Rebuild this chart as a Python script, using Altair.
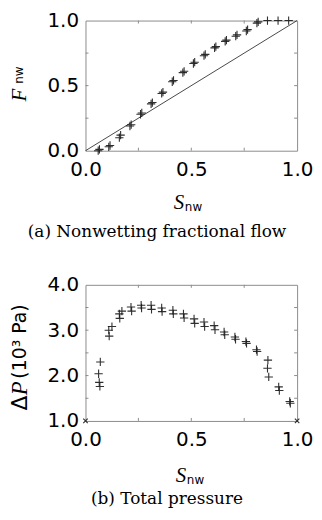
import altair as alt
import pandas as pd

# ---- (a) Nonwetting fractional flow ----
s_run1 = [0.06, 0.11, 0.16, 0.21, 0.26, 0.31, 0.36, 0.41, 0.46, 0.51, 0.56, 0.61, 0.66, 0.71, 0.76, 0.81, 0.86, 0.91, 0.96]
f_run1 = [0.00, 0.03, 0.10, 0.19, 0.28, 0.36, 0.44, 0.53, 0.60, 0.67, 0.73, 0.79, 0.84, 0.88, 0.92, 0.98, 1.00, 1.00, 1.00]
s_run2 = [0.066, 0.116, 0.166, 0.216, 0.266, 0.316, 0.366, 0.416, 0.466, 0.516, 0.566, 0.616, 0.666, 0.716, 0.766, 0.816]
f_run2 = [0.01, 0.04, 0.12, 0.20, 0.29, 0.37, 0.45, 0.54, 0.61, 0.68, 0.74, 0.80, 0.85, 0.89, 0.93, 0.99]
diag_s = [0.0, 1.0]
diag_f = [0.0, 1.0]

# ---- (b) Total pressure ----
dp_s = [0.065, 0.068, 0.062, 0.07, 0.11, 0.112, 0.125, 0.16, 0.162, 0.172, 0.215, 0.218,
        0.263, 0.265, 0.31, 0.312, 0.36, 0.362, 0.413, 0.415, 0.463, 0.466, 0.513, 0.516,
        0.56, 0.563, 0.608, 0.612, 0.655, 0.658, 0.706, 0.709, 0.758, 0.761, 0.808, 0.811,
        0.862, 0.86, 0.866, 0.913, 0.916, 0.965, 0.968]
dp_v = [1.85, 1.76, 2.04, 2.30, 3.00, 2.87, 3.08, 3.36, 3.26, 3.42, 3.51, 3.42,
        3.55, 3.49, 3.55, 3.46, 3.49, 3.41, 3.44, 3.36, 3.36, 3.27, 3.25, 3.15,
        3.18, 3.08, 3.10, 3.01, 2.96, 2.90, 2.85, 2.80, 2.75, 2.71, 2.57, 2.53,
        2.34, 2.16, 1.97, 1.75, 1.67, 1.43, 1.39]
corner_s = [0.0, 1.0]
corner_v = [1.0, 1.0]

x_ticks = [0.0, 0.5, 1.0]
fy_ticks = [0.0, 0.5, 1.0]
py_ticks = [1.0, 2.0, 3.0, 4.0]
x_minor = [0.25, 0.5, 0.75]
fy_minor = [0.25, 0.5, 0.75]
py_minor = [1.5, 2.0, 2.5, 3.0, 3.5]

W = 213
H_TOP, H_BOT = 131, 137
PLUS = "M-1,0L1,0M0,-1L0,1"
XMARK = "M-1,-1L1,1M-1,1L1,-1"
INK = "#1a1a1a"
FRAME = "#8c8c8c"


def axis(vals, pad):
    return alt.Axis(values=vals, format=".1f", title=None, labelFont="DejaVu Sans",
                    labelFontSize=20, labelColor="black", labelPadding=pad, tickSize=0,
                    domain=False, grid=False, labelFlush=False, labelOverlap=False)


def xenc(field="S"):
    return alt.X(f"{field}:Q", scale=alt.Scale(domain=[0, 1], nice=False, zero=False),
                 axis=axis(x_ticks, 9))


def yenc(field, dom, ticks):
    return alt.Y(f"{field}:Q", scale=alt.Scale(domain=dom, nice=False, zero=False),
                 axis=axis(ticks, 7))


def note(text, x, y, font="DejaVu Serif", size=17, style="normal", angle=0,
         align="center", baseline="middle"):
    return alt.Chart(pd.DataFrame({"t": [text]})).mark_text(
        font=font, fontSize=size, fontStyle=style, angle=angle, align=align,
        baseline=baseline, color="black"
    ).encode(x=alt.value(x), y=alt.value(y), text="t:N")


def pts(s, v, yname, ydom, yticks, shape=PLUS, size=70):
    df = pd.DataFrame({"S": s, yname: v})
    return alt.Chart(df).mark_point(shape=shape, size=size, filled=False, color=INK,
                                    strokeWidth=1.1, opacity=0.9).encode(
        x=xenc(), y=yenc(yname, ydom, yticks))


def inner_ticks(xm, ym, yname, ydom, yticks, h):
    dx = pd.DataFrame({"S": xm})
    dy = pd.DataFrame({yname: ym})
    st = dict(color=FRAME, strokeWidth=1)
    return [
        alt.Chart(dx).mark_rule(**st).encode(x=xenc(), y=alt.value(h), y2=alt.value(h - 3)),
        alt.Chart(dx).mark_rule(**st).encode(x=xenc(), y=alt.value(0), y2=alt.value(3)),
        alt.Chart(dy).mark_rule(**st).encode(y=yenc(yname, ydom, yticks), x=alt.value(0), x2=alt.value(3)),
        alt.Chart(dy).mark_rule(**st).encode(y=yenc(yname, ydom, yticks), x=alt.value(W), x2=alt.value(W - 3)),
    ]


diag = alt.Chart(pd.DataFrame({"S": diag_s, "F": diag_f})).mark_line(
    color=INK, strokeWidth=0.8).encode(x=xenc(), y=yenc("F", [0, 1], fy_ticks))

top = alt.layer(
    *inner_ticks(x_minor, fy_minor, "F", [0, 1], fy_ticks, H_TOP),
    diag,
    pts(s_run1, f_run1, "F", [0, 1], fy_ticks),
    pts(s_run2, f_run2, "F", [0, 1], fy_ticks),
    note("S", 94, 190, font="Liberation Serif", style="italic", size=21, baseline="alphabetic"),
    note("nw", 100, 192, font="DejaVu Sans", size=12, align="left", baseline="alphabetic"),
    note("F", -66, 75, font="Liberation Serif", style="italic", size=21, angle=270),
    note("nw", -67, 55, font="DejaVu Sans", size=12, angle=270),
    note("(a) Nonwetting fractional flow", 72, 213),
).properties(width=W, height=H_TOP)

bottom = alt.layer(
    *inner_ticks(x_minor, py_minor, "P", [1, 4], py_ticks, H_BOT),
    pts(dp_s, dp_v, "P", [1, 4], py_ticks),
    pts(corner_s, corner_v, "P", [1, 4], py_ticks, shape=XMARK, size=20),
    note("S", 96, 198, font="Liberation Serif", style="italic", size=21, baseline="alphabetic"),
    note("nw", 102, 200, font="DejaVu Sans", size=12, align="left", baseline="alphabetic"),
    note("Δ", -66, 119, font="DejaVu Sans", size=22, angle=270),
    note("P", -66, 104, font="Liberation Serif", style="italic", size=23, angle=270),
    note("(10³ Pa)", -66, 57, font="DejaVu Sans", size=19, angle=270),
    note("(b) Total pressure", 82, 216),
).properties(width=W, height=H_BOT)

chart = alt.vconcat(top, bottom, spacing=33).properties(padding=0).configure_view(
    stroke=FRAME, strokeWidth=1
).configure_concat(spacing=33)

chart.save("out.html", embed_options={"renderer": "svg", "actions": False})
